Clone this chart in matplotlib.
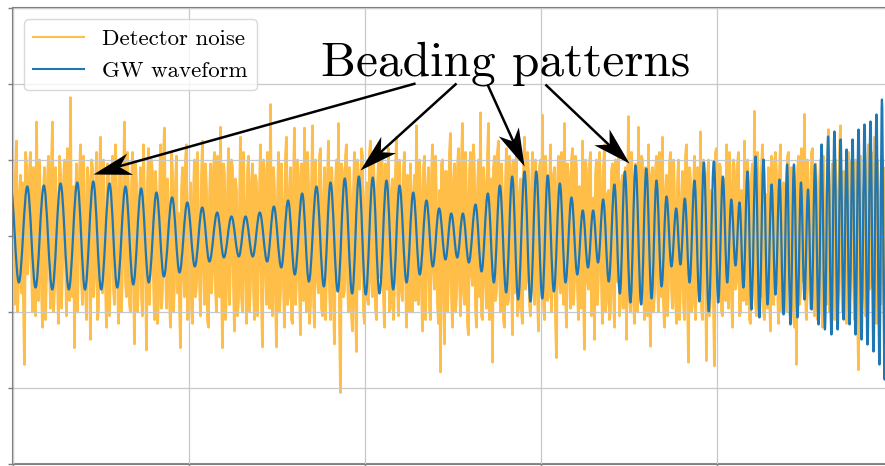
import numpy as np
import matplotlib
matplotlib.use("Agg")
import matplotlib.pyplot as plt
from matplotlib.path import Path
from matplotlib.patches import PathPatch
from matplotlib.lines import Line2D
from matplotlib.markers import MarkerStyle
from matplotlib.transforms import Affine2D

plt.rcParams["font.family"] = "serif"
plt.rcParams["font.serif"] = ["cmr10", "DejaVu Serif"]
plt.rcParams["mathtext.fontset"] = "cm"
plt.rcParams["axes.formatter.use_mathtext"] = True

# waveform: times and strain of successive extrema (peak / trough)
wave_t = [
    -0.011, 0.036, 0.084, 0.131, 0.178, 0.226, 0.273, 0.320, 0.368, 0.412,
    0.459, 0.504, 0.551, 0.595, 0.642, 0.686, 0.731, 0.774, 0.818, 0.860,
    0.907, 0.949, 0.993, 1.036, 1.078, 1.119, 1.163, 1.201, 1.244, 1.286,
    1.324, 1.365, 1.405, 1.447, 1.485, 1.527, 1.566, 1.604, 1.646, 1.684,
    1.727, 1.769, 1.807, 1.848, 1.888, 1.930, 1.968, 2.007, 2.047, 2.085,
    2.125, 2.163, 2.199, 2.239, 2.277, 2.314, 2.352, 2.388, 2.424, 2.460,
    2.493, 2.527, 2.559, 2.593, 2.631, 2.665, 2.701, 2.735, 2.769, 2.805,
    2.839, 2.873, 2.909, 2.943, 2.976, 3.010, 3.041, 3.076, 3.110, 3.142,
    3.176, 3.209, 3.240, 3.270, 3.299, 3.327, 3.356, 3.388, 3.420, 3.451,
    3.479, 3.511, 3.540, 3.572, 3.601, 3.631, 3.659, 3.688, 3.716, 3.744,
    3.771, 3.795, 3.820, 3.847, 3.875, 3.903, 3.928, 3.956, 3.985, 4.010,
    4.036, 4.061, 4.084, 4.108, 4.131, 4.153, 4.176, 4.199, 4.222, 4.244,
    4.267, 4.290, 4.313, 4.335, 4.358, 4.381, 4.401, 4.420, 4.440, 4.460,
    4.480, 4.500, 4.520, 4.540, 4.560, 4.580, 4.597, 4.616, 4.634, 4.653,
    4.670, 4.688, 4.705, 4.722, 4.739, 4.756, 4.773, 4.790, 4.807, 4.824,
    4.841, 4.858, 4.875, 4.892, 4.909, 4.926, 4.940, 4.955, 4.972,
]
wave_h = [
    0.651, -0.612, 0.651, -0.678, 0.664, -0.704, 0.691, -0.704, 0.704, -0.704,
    0.717, -0.704, 0.691, -0.678, 0.651, -0.638, 0.625, -0.612, 0.572, -0.533,
    0.507, -0.480, 0.441, -0.401, 0.375, -0.336, 0.309, -0.283, 0.257, -0.270,
    0.257, -0.270, 0.309, -0.336, 0.388, -0.414, 0.467, -0.507, 0.559, -0.599,
    0.651, -0.664, 0.704, -0.730, 0.757, -0.757, 0.783, -0.770, 0.770, -0.757,
    0.730, -0.704, 0.664, -0.612, 0.572, -0.507, 0.467, -0.401, 0.362, -0.309,
    0.296, -0.283, 0.296, -0.349, 0.414, -0.467, 0.559, -0.612, 0.664, -0.743,
    0.783, -0.836, 0.849, -0.862, 0.849, -0.822, 0.796, -0.730, 0.691, -0.612,
    0.507, -0.507, 0.336, -0.414, 0.336, -0.349, 0.480, -0.599, 0.678, -0.757,
    0.849, -0.875, 0.928, -0.901, 0.888, -0.822, 0.730, -0.664, 0.520, -0.401,
    0.362, -0.375, 0.493, -0.612, 0.730, -0.862, 0.967, -0.993, 0.980, -0.875,
    0.783, -0.612, 0.480, -0.388, 0.441, -0.678, 0.849, -0.967, 1.046, -1.072,
    1.007, -0.901, 0.678, -0.770, 0.743, -1.033, 0.941, -1.164, 0.941, -1.072,
    0.704, -0.836, 0.612, -0.967, 0.941, -1.164, 1.204, -1.230, 1.309, -1.296,
    1.375, -1.230, 1.270, -1.099, 1.138, -1.164, 1.270, -1.296, 1.401, -1.362,
    1.467, -1.428, 1.507, -1.520, 1.599, -1.691, 1.796, -1.888, 1.796,
]

# detector noise samples, evenly spaced over the window
noise = [
    0.4, -0.3, -0.9, 0.8, 1.25, -1.0, -0.6, 0.55, 0.8, -0.75, 0.7, -0.9, -1.69, 1.1, 0.95, -0.5, -0.3, 0.85, 1.1, -0.4,
    -1.0, 0.9, 0.5, -1.05, 1.5, 0.2, -0.85, 1.0, 0.2, -0.7, -1.2, 0.6, 0.9, -1.1, -0.5, 0.75, 1.05, -0.35, -0.95, 0.95,
    1.5, -1.0, -0.7, 0.9, 0.35, -0.6, -1.15, 1.05, 0.85, -0.95, -0.4, 0.7, 1.0, -0.3, -1.05, 1.15, 0.6, -0.85, 1.82, -0.5,
    -0.8, 0.65, -1.47, 0.4, 0.95, -1.0, -0.25, 0.8, 1.2, -0.6, -0.9, 1.05, 0.45, -0.7, -1.1, 0.9, 0.75, -0.45, -1.36, 1.0,
    0.9, -0.8, -0.55, 0.6, 1.1, -1.1, -0.95, 0.75, 1.3, -0.4, -0.75, 1.0, 0.3, -0.65, -1.2, 0.95, 0.8, -1.05, -0.4, 0.5,
    1.05, -0.7, -0.9, 1.2, 0.6, -0.5, -1.15, 0.85, 0.95, -1.0, -0.35, 0.7, 1.5, -0.6, -0.8, 1.1, 0.5, -0.9, -1.0, 0.65,
    1.1, -0.55, -1.42, 0.95, 0.7, -1.0, -0.6, 0.45, 0.9, -0.8, -1.05, 1.2, 0.4, -0.35, -1.5, 0.7, 1.15, -0.9, -0.3, 1.0,
    0.8, -0.6, -1.1, 0.85, 0.55, -1.15, -0.85, 0.5, 1.2, -0.95, -0.7, 1.05, 1.42, -0.4, -0.95, 0.75, 0.35, -0.85, -1.2, 1.1,
    0.85, -1.0, -0.6, 0.7, 1.05, -0.75, 0.3, -0.9, -1.47, 0.6, 0.9, -0.5, -0.8, 1.0, 1.2, -1.1, -0.45, 0.35, 0.7, -0.95,
    -1.15, 0.55, 1.0, -0.8, -0.65, 1.1, 0.25, -0.6, -1.05, 0.8, 1.25, -0.4, -0.9, 0.95, 0.6, -1.1, -1.2, 0.5, 0.95, -0.75,
    -0.5, 0.9, 1.1, -0.7, -1.0, 1.05, 0.45, -0.8, 1.43, -0.6, -1.47, 0.95, 0.8, -1.1, -0.7, 0.55, 1.15, -0.9, -0.35, 1.0,
    0.9, -0.65, -1.25, 0.75, 0.6, -1.05, -0.85, 0.4, 1.3, -0.8, -1.0, 1.1, 0.4, -0.55, -1.15, 0.85, 1.05, -1.0, -0.6, 0.7,
    0.95, -0.7, -1.1, 0.8, 0.7, -1.05, -0.4, 0.6, 1.2, -0.85, -1.46, 1.0, 0.85, -0.45, -0.9, 1.1, 0.5, -0.95, 1.73, -0.6,
    -1.05, 0.9, 0.6, -0.8, -1.46, 0.5, 1.1, -1.0, -0.75, 0.95, 0.35, -0.65, -1.2, 1.05, 1.3, -0.9, -0.8, 0.6, 0.9, -1.1,
    -1.15, 0.75, 1.42, -0.9, -0.6, 1.0, 0.8, -0.7, -1.3, 0.95, 0.55, -0.85, 1.42, -0.5, -1.0, 1.1, 0.7, -1.15, -0.9, 0.6,
    1.45, -0.8, -1.2, 1.0, 0.4, -0.6, -0.75, 1.05, 1.15, -0.95, -1.05, 0.45, 0.9, -1.1, -0.5, 0.8, 1.25, -0.7, -1.1, 0.9,
    0.65, -0.9, -1.42, 0.7, 1.0, -0.6, 1.48, -1.1, -2.06, 0.95, 0.85, -0.8, -0.7, 1.05, 1.2, -0.55, -1.0, 0.9, 0.5, -1.05,
    -1.25, 0.6, 1.1, -0.9, -1.52, 1.0, 0.8, -0.7, -0.45, 1.15, 1.05, -1.0, -1.15, 0.5, 0.7, -0.85, -0.9, 1.1, 1.25, -0.6,
    -0.8, 1.0, 0.6, -0.95, -1.1, 0.7, 1.0, -0.5, -0.55, 1.05, 0.9, -0.8, -1.2, 0.95, 0.4, -0.7, 1.15, -1.0, -0.95, 0.6,
    0.75, -1.1, -0.65, 0.85, 1.3, -0.6, -1.05, 1.0, 0.5, -0.75, -0.85, 0.9, 1.1, -0.45, -1.2, 0.8, 0.35, -1.0, 0.95, -0.7,
    -1.0, 0.55, 0.8, -0.85, 1.45, -0.6, -0.9, 1.0, 0.6, -0.7, -1.25, 0.9, 1.05, -1.1, -0.5, 0.65, 0.9, -0.95, -1.1, 0.8,
    1.2, -0.45, -0.7, 1.05, 0.45, -0.9, -1.15, 0.6, -1.79, 0.95, 1.0, -0.7, -1.42, 0.85, 0.85, -1.0, -0.6, 1.1, 1.35, -0.8,
    -1.2, 0.7, 0.95, -1.0, -0.8, 0.9, 1.15, -0.6, -1.05, 1.0, 1.48, -0.75, -0.9, 1.1, 0.55, -1.15, -1.3, 0.85, 1.1, -0.5,
    -0.65, 1.2, 0.8, -0.95, -1.2, 0.6, 1.0, -0.8, 1.62, -1.05, -1.1, 0.9, 0.7, -0.6, -0.95, 1.05, 1.48, -1.1, -0.85, 0.75,
    -1.66, 0.9, 1.05, -0.85, -0.7, 1.1, 1.25, -0.5, -1.0, 0.95, 0.5, -1.1, -1.2, 0.7, 1.15, -0.9, -0.85, 1.05, 0.9, -0.6,
    -1.3, 1.0, 0.6, -0.75, 1.2, -1.05, -0.95, 0.55, 0.75, -1.0, -1.15, 0.85, 1.3, -0.7, -0.6, 1.1, 0.85, -0.9, -1.05, 0.65,
    1.1, -0.65, -0.9, 1.0, 0.55, -0.8, -1.25, 0.9, 1.0, -0.55, 1.59, -0.9, -1.1, 1.05, 0.7, -0.85, -0.8, 0.6, 1.2, -1.0,
    -0.5, 0.8, 0.9, -1.1, -1.6, 0.7, 1.05, -0.6, -0.75, 1.1, 0.45, -0.9, 1.48, -0.7, -1.2, 0.95, 0.8, -0.5, -0.95, 1.0,
    1.15, -0.9, -0.6, 1.05, 0.9, -0.7, -1.1, 0.65, 0.4, -0.95, 1.25, -0.8, -1.49, 1.0, 0.85, -0.6, -0.7, 0.95, 1.1, -1.05,
    -0.95, 0.5, -1.36, 0.8, 1.0, -0.9, -0.5, 1.1, 0.75, -0.65, -1.15, 0.9, 1.2, -1.0, -0.85, 0.55, 0.6, -1.1, -1.0, 0.85,
    0.95, -0.75, -1.2, 1.0, 0.5, -0.6, 1.1, -1.05, -0.9, 0.7, 0.8, -0.95, -0.55, 0.9, -1.36, 0.5, 1.57, -0.8, -1.0, 1.1,
    0.7, -0.85, -1.15, 0.95, 0.4, -1.0, 1.43, -0.6, -0.85, 1.05, 1.0, -0.7, -1.1, 0.9, 0.6, -1.05, 1.2, -0.5, -1.45, 0.8,
    0.9, -1.0, -0.75, 0.85, 1.05, -0.6, -1.0, 1.1, 0.45, -0.8, 1.3, -0.9, -1.2, 0.6, 0.8, -1.05, -0.6, 0.95, 1.1, -0.7,
    -0.95, 1.0, 0.55, -0.85, -1.15, 0.7, 1.0, -1.1, -0.7, 0.5, 0.85, -0.9, -1.1, 1.05, 1.2, -0.8, -1.66, 0.9, 0.75, -1.0,
    -0.9, 0.6, 1.05, -1.1, -0.5, 0.9, 0.8, -0.7, 1.37, -0.95, -1.1, 1.0, 0.65, -0.55, -1.64, 0.8, 1.0, -1.05, -0.8, 0.6,
    0.5, -0.9, -1.71, 1.1, 1.15, -0.6, -0.7, 0.95, 0.9, -1.0, -1.05, 0.75, 0.4, -0.85, 1.2, -0.5, -0.95, 1.1, 0.7, -0.8,
    -1.2, 1.0, 0.85, -0.7, -0.6, 0.95, 1.1, -1.05, -1.0, 0.6, 0.5, -0.85, 1.25, -0.6, -0.9, 1.0, 0.7, -1.1, -1.15, 0.8,
    0.95, -0.5, 1.64, -0.9, -1.05, 1.1, 0.6, -0.75, -0.8, 0.9, 1.2, -1.0, -1.1, 0.55, 0.45, -0.95, 0.9, -0.7, -1.25, 1.05,
    1.0, -0.9, -0.7, 1.1, 0.8, -0.6, -1.15, 0.85, 1.2, -1.0, -0.55, 0.7, 0.65, -0.95, -1.0, 1.05, 1.1, -0.5, -0.85, 0.9,
    0.5, -1.05, -1.2, 0.6, -1.69, 0.85, 1.05, -0.9, -0.75, 1.15, 0.9, -0.6, 1.6, -0.8, -1.1, 1.0, 0.6, -0.7, -0.95, 1.1,
    1.15, -0.8, -1.05, 0.95, 0.7, -1.1, -0.6, 0.75, 1.0, -0.5, -1.2, 1.05, 0.45, -0.7, -0.9, 0.9, 1.4, -1.0, -0.8, 0.6,
    0.95, -0.75, -1.1, 1.0, 0.55, -0.95, -0.7, 1.1, 1.45, -0.6, -1.0, 0.85, 0.8, -1.05, -1.15, 0.7, 1.1, -0.9, -0.5, 1.0,
    0.9, -0.6, -1.1, 1.0, 0.6, -0.9, -1.76, 0.8, 1.05, -1.0, -0.8, 0.55, 0.7, -1.05, -1.0, 0.95, 1.2, -0.7, -0.65, 1.1,
    0.85, -0.9, 1.3, -0.55, -1.15, 1.0, 0.5, -0.8, -0.9, 1.05, 1.0, -0.6, -1.2, 0.9, 0.75, -1.0, -0.6, 0.7, 1.1, -0.95,
    -0.85,
]
noise_t = np.linspace(0.0, 5.0, len(noise))

NOISE_COLOR = "orange"
WAVE_COLOR = "#1f77b4"

fig = plt.figure(figsize=(8.85, 4.66), dpi=100)
ax = fig.add_axes([12.5 / 885, 2 / 466, 880 / 885, 456 / 466])

ax.plot(noise_t, noise, color=NOISE_COLOR, alpha=0.72, lw=2.0, zorder=2)

# smooth waveform: cubic segments with flat tangents at every extremum
k = 0.36
verts = [(wave_t[0], wave_h[0])]
codes = [Path.MOVETO]
for i in range(1, len(wave_t)):
    t0, t1 = wave_t[i - 1], wave_t[i]
    dt = t1 - t0
    verts += [(t0 + k * dt, wave_h[i - 1]), (t1 - k * dt, wave_h[i]), (t1, wave_h[i])]
    codes += [Path.CURVE4] * 3
ax.add_patch(PathPatch(Path(verts, codes), fill=False, edgecolor=WAVE_COLOR,
                       lw=1.6, zorder=3, capstyle="round", joinstyle="round"))

ax.set_xlim(0, 5)
ax.set_ylim(-3, 3)
ax.set_xticks([0, 1, 2, 3, 4, 5])
ax.set_yticks([-3, -2, -1, 0, 1, 2, 3])
ax.tick_params(labelleft=False, labelbottom=False, length=3.5, width=1,
               color="#808080", direction="out")
ax.grid(True, color="#c8c8c8", lw=0.9)
ax.set_axisbelow(False)
for s in ax.spines.values():
    s.set_color("#808080")
    s.set_linewidth(1.5)

handles = [Line2D([], [], color=NOISE_COLOR, alpha=0.7, lw=1.5),
           Line2D([], [], color=WAVE_COLOR, lw=1.5)]
ax.legend(handles, ["Detector noise", "GW waveform"], loc="upper left",
          fontsize=16.5, handlelength=2.2, labelspacing=0.55,
          borderaxespad=0.5, framealpha=0.8, edgecolor="#d0d0d0")

ax.text(2.80, 2.112, "Beading patterns", fontsize=35.5, ha="center",
        va="baseline", zorder=5)

# arrows with a notched (stealth) head
head = Path([(0, 0), (-1, 0.29), (-0.72, 0), (-1, -0.29), (0, 0)],
            [Path.MOVETO, Path.LINETO, Path.LINETO, Path.LINETO, Path.CLOSEPOLY])
head_px = 38
tips = [(0.460, 0.822), (1.977, 0.862), (2.909, 0.921), (3.500, 0.954)]
starts = [(2.290, 2.007), (2.523, 2.007), (2.699, 1.993), (3.028, 1.993)]
for tip, start in zip(tips, starts):
    p_tip = ax.transData.transform(tip)
    p_start = ax.transData.transform(start)
    d = p_tip - p_start
    dist = np.hypot(*d)
    angle = np.degrees(np.arctan2(d[1], d[0]))
    stop = ax.transData.inverted().transform(p_tip - d / dist * head_px * 0.6)
    ax.plot([start[0], stop[0]], [start[1], stop[1]], color="black", lw=1.8,
            solid_capstyle="butt", zorder=5)
    marker = MarkerStyle(head, transform=Affine2D().rotate_deg(angle))
    ax.plot([tip[0]], [tip[1]], marker=marker, markersize=head_px * 2 * 0.72,
            color="black", markeredgewidth=0, zorder=6)

fig.savefig("out.png", dpi=100)
